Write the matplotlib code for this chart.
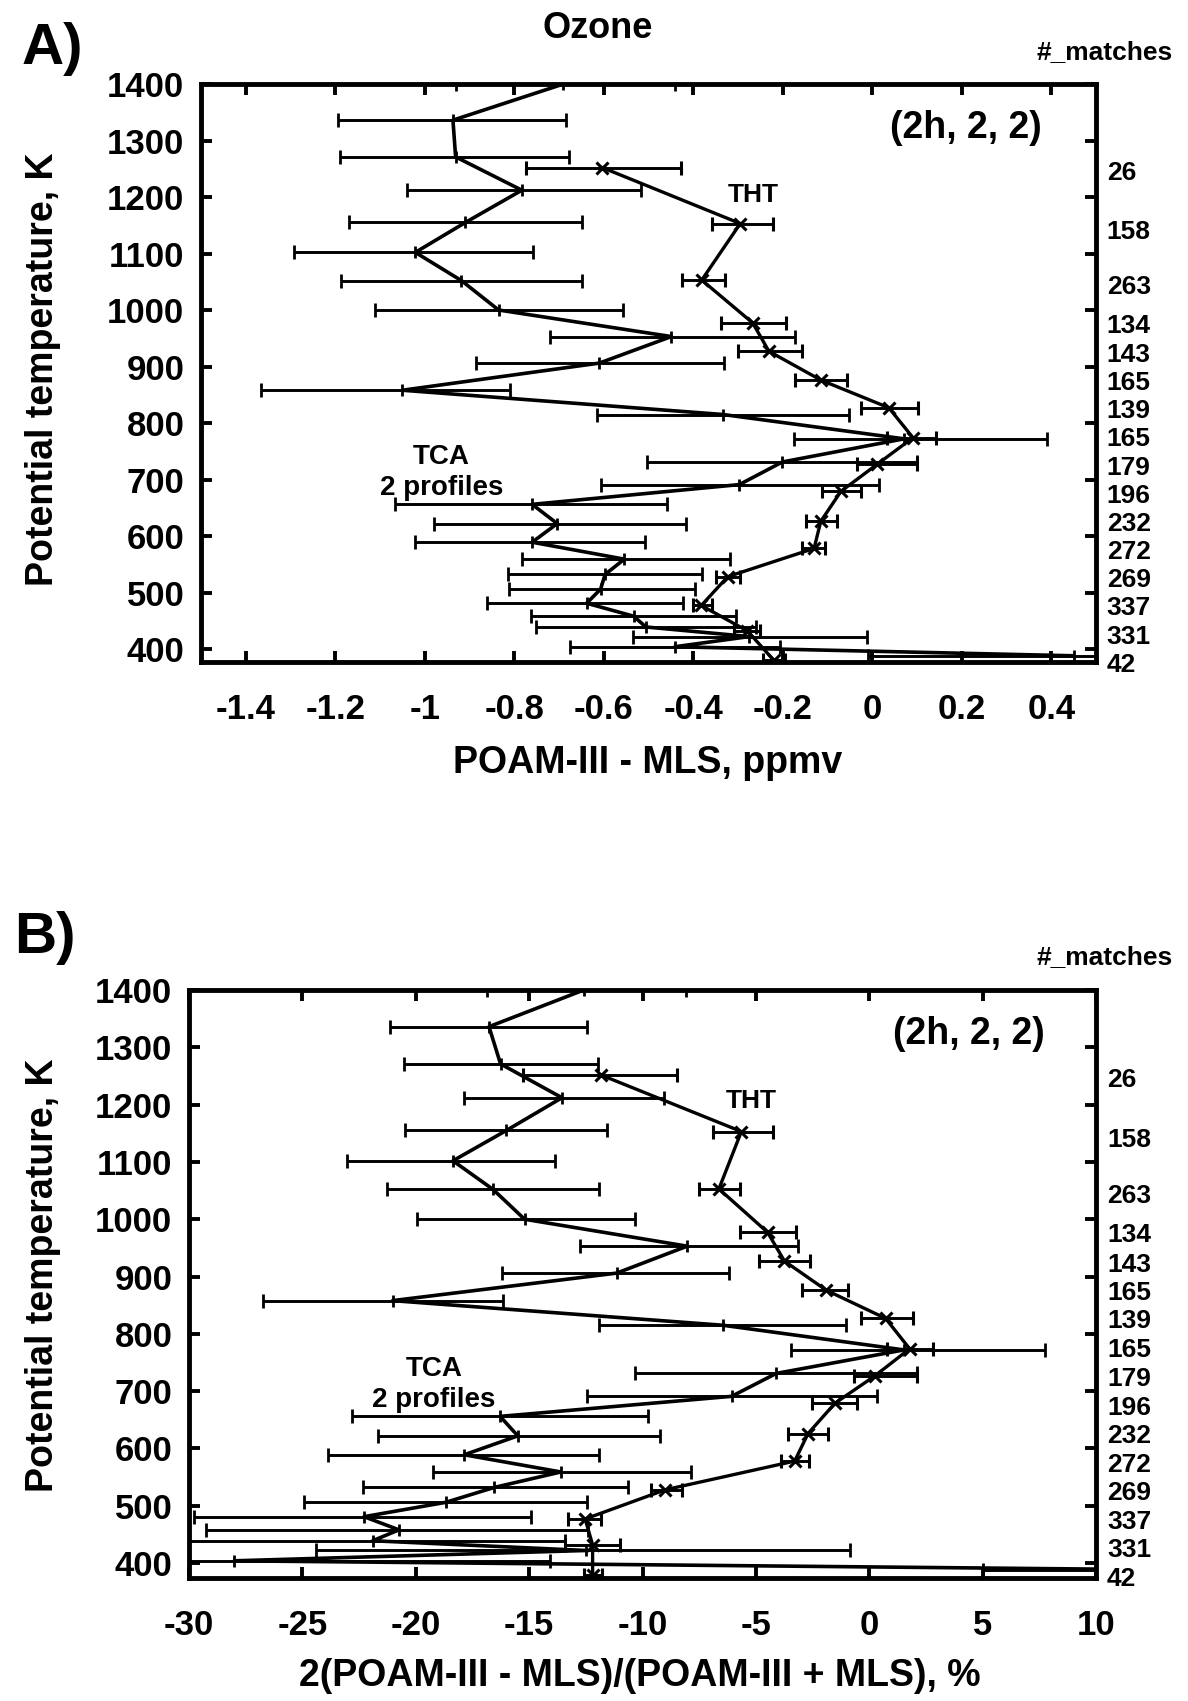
import matplotlib
matplotlib.use('Agg')
import matplotlib.pyplot as plt
from matplotlib.transforms import blended_transform_factory

plt.rcParams['font.family'] = ['Liberation Sans', 'DejaVu Sans']
plt.rcParams['font.weight'] = 'bold'

# potential temperature levels, K
tca_theta = [1400, 1336, 1271, 1212, 1155, 1102, 1052, 1000, 953, 906, 858, 815, 772, 731,
             691, 656, 622, 589, 559, 532, 506, 481, 458, 439, 422, 404, 388]
tht_theta = [1252, 1153, 1053, 977, 927, 876, 827, 774, 727, 679, 626, 578, 528, 477, 432, 380]

# panel A: POAM-III - MLS, ppmv
a_tca = [-0.69, -0.937, -0.931, -0.783, -0.909, -1.021, -0.918, -0.835, -0.449, -0.610, -1.05,
         -0.333, 0.071, -0.201, -0.297, -0.760, -0.704, -0.760, -0.554, -0.597, -0.607, -0.638,
         -0.533, -0.506, -0.275, -0.441, 0.45]
a_tca_lo = [-0.93, -1.194, -1.190, -1.040, -1.169, -1.293, -1.188, -1.111, -0.719, -0.886, -1.365,
            -0.616, -0.175, -0.503, -0.607, -1.066, -0.980, -1.021, -0.783, -0.815, -0.811, -0.861,
            -0.762, -0.752, -0.535, -0.676, -0.01]
a_tca_hi = [-0.44, -0.684, -0.678, -0.517, -0.648, -0.758, -0.648, -0.556, -0.173, -0.331, -0.809,
            -0.051, 0.390, 0.101, 0.014, -0.459, -0.417, -0.507, -0.317, -0.381, -0.395, -0.424,
            -0.305, -0.260, -0.012, -0.207, 0.85]
a_tht = [-0.603, -0.295, -0.381, -0.267, -0.231, -0.115, 0.037, 0.091, 0.011, -0.070, -0.115,
         -0.130, -0.323, -0.382, -0.279, -0.220]
a_tht_lo = [-0.774, -0.357, -0.426, -0.337, -0.299, -0.173, -0.025, 0.033, -0.035, -0.112, -0.147,
            -0.156, -0.349, -0.400, -0.308, -0.245]
a_tht_hi = [-0.427, -0.222, -0.330, -0.192, -0.157, -0.057, 0.103, 0.142, 0.101, -0.025, -0.079,
            -0.105, -0.295, -0.359, -0.250, -0.195]

# panel B: relative difference, %
b_tca = [-12.59, -16.77, -16.26, -13.55, -16.00, -18.36, -16.59, -15.20, -8.03, -11.14, -21.02,
         -6.45, 1.53, -4.10, -6.07, -16.28, -15.50, -17.86, -13.60, -16.54, -18.68, -22.28,
         -20.74, -21.9, -12.5, -28.0, 14.0]
b_tca_lo = [-16.84, -21.15, -20.52, -17.86, -20.46, -23.05, -21.28, -19.96, -12.74, -16.21, -26.72,
            -11.90, -3.46, -10.31, -12.46, -22.80, -21.66, -23.89, -19.25, -22.34, -24.92, -29.77,
            -29.25, -31.0, -24.4, -35.0, 5.0]
b_tca_hi = [-8.10, -12.46, -11.95, -9.04, -11.57, -13.88, -11.90, -10.33, -3.16, -6.20, -16.16,
            -1.01, 7.73, 2.11, 0.34, -9.75, -9.24, -11.90, -7.85, -10.63, -12.44, -14.93,
            -12.41, -13.4, -0.85, -14.1, 25.0]
b_tht = [-11.85, -5.64, -6.63, -4.48, -3.74, -1.89, 0.72, 1.78, 0.26, -1.51, -2.70, -3.29,
         -8.99, -12.53, -12.2, -12.2]
b_tht_lo = [-15.25, -6.91, -7.52, -5.69, -4.86, -2.96, -0.37, 0.77, -0.68, -2.53, -3.59, -3.87,
            -9.62, -13.3, -13.4, -12.6]
b_tht_hi = [-8.48, -4.25, -5.69, -3.24, -2.60, -0.93, 1.91, 2.79, 2.11, -0.55, -1.82, -2.65,
            -8.28, -11.83, -11.0, -11.8]

matches = ['26', '158', '263', '134', '143', '165', '139', '165', '179', '196', '232', '272',
           '269', '337', '331', '42']
matches_theta = [1243, 1138, 1040, 972, 921, 871, 822, 771, 721, 671, 622, 572, 522, 472, 422, 372]

a_xticks = [-1.4, -1.2, -1.0, -0.8, -0.6, -0.4, -0.2, 0.0, 0.2, 0.4]
a_xlabels = ['-1.4', '-1.2', '-1', '-0.8', '-0.6', '-0.4', '-0.2', '0', '0.2', '0.4']
b_xticks = [-30, -25, -20, -15, -10, -5, 0, 5, 10]
b_xlabels = ['-30', '-25', '-20', '-15', '-10', '-5', '0', '5', '10']
yticks = [400, 500, 600, 700, 800, 900, 1000, 1100, 1200, 1300, 1400]

W, H = 1188, 1701
fig = plt.figure(figsize=(W / 100, H / 100), dpi=100)


def err(x, lo, hi):
    return [[a - b for a, b in zip(x, lo)], [b - a for a, b in zip(x, hi)]]


def panel(rect, xlim, ylim, tca, tca_lo, tca_hi, tht, tht_lo, tht_hi, xt, xl, pos):
    ax = fig.add_axes(rect)
    ax.errorbar(tca, tca_theta, xerr=err(tca, tca_lo, tca_hi), color='black', lw=2.6,
                elinewidth=2.1, capsize=5, capthick=2.1, marker='|', ms=9, mew=2)
    ax.errorbar(tht, tht_theta, xerr=err(tht, tht_lo, tht_hi), color='black', lw=2.4,
                elinewidth=2.1, capsize=5, capthick=2.1, marker='x', ms=8, mew=2.2)
    ax.set_xlim(*xlim)
    ax.set_ylim(*ylim)
    ax.set_xticks(xt)
    ax.set_xticklabels(xl)
    ax.set_yticks(yticks)
    ax.tick_params(direction='in', length=8, width=2.8, top=True, right=True,
                   labelsize=25, pad=12)
    ax.tick_params(axis='x', pad=22)
    for s in ax.spines.values():
        s.set_linewidth(3.5)
    tr = blended_transform_factory(ax.transAxes, ax.transData)
    for lab, yy in zip(matches, matches_theta):
        ax.text(1.012, yy, lab, transform=tr, fontsize=19, ha='left', va='center',
                clip_on=False)
    ax.text(pos['box'][0], pos['box'][1], '(2h, 2, 2)', fontsize=27, ha='center', va='center')
    ax.text(pos['tht'][0], pos['tht'][1], 'THT', fontsize=19, ha='center', va='center')
    ax.text(pos['tca'][0], pos['tca'][1], 'TCA\n2 profiles', fontsize=20, ha='center',
            va='center', linespacing=1.25)
    return ax


axA = panel([201 / W, 1 - 662 / H, 895 / W, 578 / H], (-1.5, 0.5), (377, 1400),
            a_tca, a_tca_lo, a_tca_hi, a_tht, a_tht_lo, a_tht_hi, a_xticks, a_xlabels,
            {'box': (0.21, 1322), 'tht': (-0.265, 1204), 'tca': (-0.963, 713)})
axB = panel([189 / W, 1 - 1578 / H, 907 / W, 588 / H], (-30, 10), (374, 1400),
            b_tca, b_tca_lo, b_tca_hi, b_tht, b_tht_lo, b_tht_hi, b_xticks, b_xlabels,
            {'box': (4.4, 1323), 'tht': (-5.2, 1206), 'tca': (-19.2, 711)})

fig.text(598 / W, 1 - 29 / H, 'Ozone', fontsize=26, ha='center', va='center')
fig.text(52 / W, 1 - 49 / H, 'A)', fontsize=42, ha='center', va='center')
fig.text(45 / W, 1 - 938 / H, 'B)', fontsize=42, ha='center', va='center')
fig.text(1105 / W, 1 - 52 / H, '#_matches', fontsize=19, ha='center', va='center')
fig.text(1105 / W, 1 - 957 / H, '#_matches', fontsize=19, ha='center', va='center')
fig.text(43 / W, 1 - 369 / H, 'Potential temperature, K', fontsize=27, rotation=90,
         ha='center', va='center')
fig.text(43 / W, 1 - 1275 / H, 'Potential temperature, K', fontsize=27, rotation=90,
         ha='center', va='center')
fig.text(648 / W, 1 - 763 / H, 'POAM-III - MLS, ppmv', fontsize=27, ha='center', va='center')
fig.text(640 / W, 1 - 1676 / H, '2(POAM-III - MLS)/(POAM-III + MLS), %', fontsize=27,
         ha='center', va='center')

fig.savefig('out.png', dpi=100)
